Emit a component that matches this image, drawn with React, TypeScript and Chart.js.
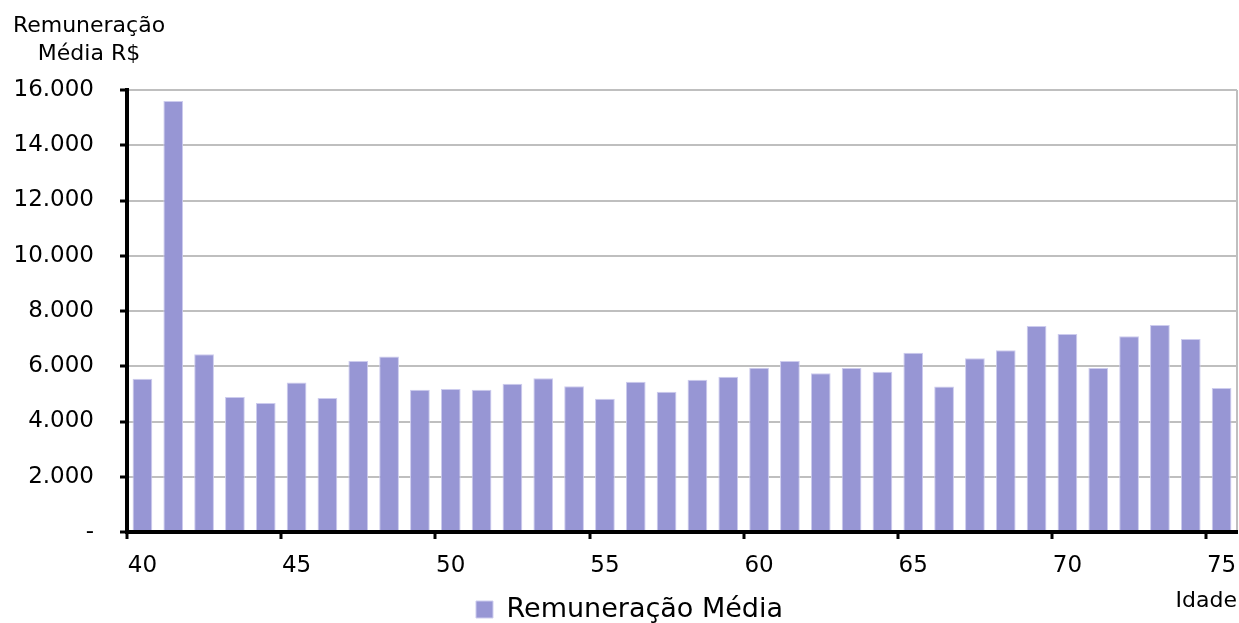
import React, { useEffect, useRef } from "react";
import { Chart, registerables } from "chart.js";

Chart.register(...registerables);

const ages: string[] = [
  "40", "41", "42", "43", "44", "45", "46", "47", "48", "49",
  "50", "51", "52", "53", "54", "55", "56", "57", "58", "59",
  "60", "61", "62", "63", "64", "65", "66", "67", "68", "69",
  "70", "71", "72", "73", "74", "75",
];

const remuneracaoMedia: number[] = [
  5550, 15600, 6430, 4890, 4670, 5410, 4850, 6190, 6350, 5150,
  5180, 5150, 5370, 5570, 5280, 4820, 5440, 5080, 5510, 5620,
  5950, 6190, 5750, 5940, 5800, 6490, 5270, 6290, 6580, 7460,
  7170, 5940, 7090, 7490, 6990, 5210,
];

const seriesLabel = "Remuneração Média";
const yTitleLines: string[] = ["Remuneração", "Média R$"];
const xTitle = "Idade";

const AXIS_FONT = '"DejaVu Sans", sans-serif';
const LEGEND_FONT = '"DejaVu Sans", sans-serif';

function fmt(v: number): string {
  if (v === 0) return "-";
  return String(v).replace(/\B(?=(\d{3})+(?!\d))/g, ".");
}

const yTitlePlugin = {
  id: "yTitleTop",
  afterDraw(chart: any) {
    const { ctx, chartArea } = chart;
    ctx.save();
    ctx.font = `22px ${AXIS_FONT}`;
    ctx.fillStyle = "#000";
    ctx.textAlign = "center";
    ctx.textBaseline = "alphabetic";
    const cx = chartArea.left - 38;
    ctx.fillText(yTitleLines[0], cx, chartArea.top - 58);
    ctx.fillText(yTitleLines[1], cx, chartArea.top - 30);
    ctx.restore();
  },
};

export default function App() {
  const canvasRef = useRef<HTMLCanvasElement | null>(null);

  useEffect(() => {
    if (!canvasRef.current) return;
    const chart = new Chart(canvasRef.current, {
      type: "bar",
      data: {
        labels: ages,
        datasets: [
          {
            label: seriesLabel,
            data: remuneracaoMedia,
            backgroundColor: "rgb(151,150,212)",
            borderColor: "rgb(205,204,238)",
            borderWidth: 1,
            categoryPercentage: 1,
            barPercentage: 0.64,
          },
        ],
      },
      options: {
        responsive: false,
        animation: false,
        devicePixelRatio: 1,
        layout: { padding: { left: 12, right: -8, top: 90, bottom: -10 } },
        plugins: {
          legend: {
            position: "bottom",
            labels: {
              boxWidth: 17,
              boxHeight: 17,
              padding: 10,
              color: "#000",
              font: { family: LEGEND_FONT, size: 27 },
            },
          },
          tooltip: { enabled: false },
          title: { display: false },
        },
        scales: {
          x: {
            afterFit: (scale: any) => {
              scale.paddingLeft = 0;
              scale.paddingRight = 2;
            },
            grid: {
              offset: true,
              drawOnChartArea: true,
              drawTicks: true,
              tickLength: 7,
              tickWidth: 3,
              lineWidth: 2,
              color: (c: any) => (c.index === undefined ? "#BFBFBF" : "rgba(0,0,0,0)"),
              tickColor: (c: any) =>
                c.index !== undefined && c.index % 5 === 0 ? "#000" : "rgba(0,0,0,0)",
            },
            border: { display: true, color: "#000", width: 4, z: 1 },
            ticks: {
              autoSkip: false,
              maxRotation: 0,
              padding: 13,
              color: "#000",
              font: { family: AXIS_FONT, size: 23 },
              callback: (_v: any, i: number) => (i % 5 === 0 ? ages[i] : ""),
            },
            title: {
              display: true,
              text: xTitle,
              align: "end",
              color: "#000",
              font: { family: AXIS_FONT, size: 22 },
              padding: { top: -5, bottom: -28 },
            },
          },
          y: {
            min: 0,
            max: 16000,
            afterFit: (scale: any) => {
              scale.width = 115;
            },
            grid: {
              color: "#BFBFBF",
              lineWidth: 2,
              tickColor: "#000",
              tickLength: 7,
              tickWidth: 3,
            },
            border: { display: true, color: "#000", width: 4, z: 1 },
            ticks: {
              stepSize: 2000,
              padding: 26,
              color: "#000",
              font: { family: AXIS_FONT, size: 23 },
              callback: (v: any) => fmt(Number(v)),
            },
          },
        },
      },
      plugins: [yTitlePlugin],
    } as any);
    return () => chart.destroy();
  }, []);

  return (
    <div
      style={{
        position: "absolute",
        left: 0,
        top: 0,
        width: 1239,
        height: 623,
        overflow: "hidden",
        background: "#fff",
      }}
    >
      <canvas ref={canvasRef} width={1239} height={623} style={{ display: "block" }} />
    </div>
  );
}
